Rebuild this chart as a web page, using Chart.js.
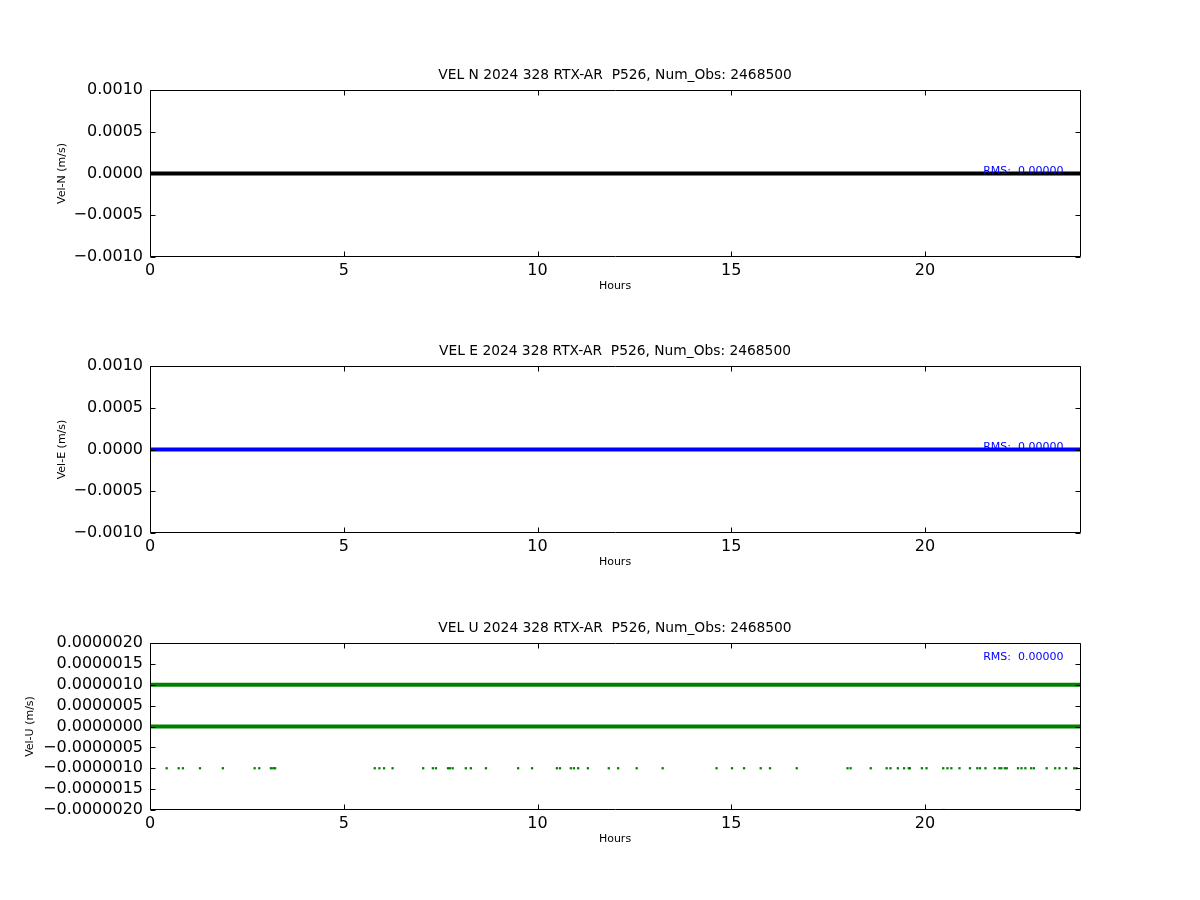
<!DOCTYPE html>
<html>
<head>
<meta charset="utf-8">
<script src="https://cdn.jsdelivr.net/npm/chart.js@4.4.1/dist/chart.umd.min.js"></script>
<style>
  body { margin: 0; background: #fff; }
  .panel { position: absolute; left: 0; width: 1200px; height: 242px; }
</style>
</head>
<body>
<div class="panel" style="top:60px"><canvas id="velN"></canvas></div>
<div class="panel" style="top:336px"><canvas id="velE"></canvas></div>
<div class="panel" style="top:613px"><canvas id="velU"></canvas></div>
<script>
// dados
const spanHours = [0, 24];
const velN = [0, 0];
const velE = [0, 0];
const velUUpper = [0.000001, 0.000001];
const velUZero = [0, 0];
const velULowHours = [
  0.43, 0.74, 0.85, 1.29, 1.88, 2.70, 2.82, 3.12, 3.18, 3.23,
  5.80, 5.92, 6.04, 6.26, 7.05, 7.30, 7.38, 7.69, 7.74, 7.81,
  8.15, 8.28, 8.67, 9.50, 9.86, 10.50, 10.58, 10.86, 10.94, 11.05,
  11.30, 11.84, 12.08, 12.56, 13.23, 14.62, 15.02, 15.33, 15.76, 16.00,
  16.69, 18.00, 18.08, 18.60, 19.01, 19.11, 19.30, 19.46, 19.58, 19.61,
  19.92, 20.04, 20.47, 20.58, 20.68, 20.89, 21.16, 21.35, 21.42, 21.56,
  21.80, 21.92, 21.97, 22.06, 22.11, 22.40, 22.49, 22.59, 22.74, 22.81,
  23.14, 23.36, 23.47, 23.64, 23.85, 23.91
];
const velULow = [
  -0.000001, -0.000001, -0.000001, -0.000001, -0.000001, -0.000001, -0.000001, -0.000001, -0.000001, -0.000001,
  -0.000001, -0.000001, -0.000001, -0.000001, -0.000001, -0.000001, -0.000001, -0.000001, -0.000001, -0.000001,
  -0.000001, -0.000001, -0.000001, -0.000001, -0.000001, -0.000001, -0.000001, -0.000001, -0.000001, -0.000001,
  -0.000001, -0.000001, -0.000001, -0.000001, -0.000001, -0.000001, -0.000001, -0.000001, -0.000001, -0.000001,
  -0.000001, -0.000001, -0.000001, -0.000001, -0.000001, -0.000001, -0.000001, -0.000001, -0.000001, -0.000001,
  -0.000001, -0.000001, -0.000001, -0.000001, -0.000001, -0.000001, -0.000001, -0.000001, -0.000001, -0.000001,
  -0.000001, -0.000001, -0.000001, -0.000001, -0.000001, -0.000001, -0.000001, -0.000001, -0.000001, -0.000001,
  -0.000001, -0.000001, -0.000001, -0.000001, -0.000001, -0.000001
];
const velUOutlierHours = [20.48];
const velUOutlier = [-0.000002];
const xTicks = [0, 5, 10, 15, 20];
const rmsText = 'RMS:  0.00000';

const FONT = 'DejaVu Sans';

function pts(xs, ys) {
  return xs.map((x, i) => ({ x: x, y: ys[i] }));
}

// caixa completa + ticks para dentro (estilo matplotlib) + título + texto RMS
const frame = {
  id: 'frame',
  afterDatasetsDraw(chart, args, opts) {
    const { ctx, chartArea: a, scales: { x, y } } = chart;
    const L = Math.round(a.left) + 0.5, R = Math.round(a.right) + 0.5;
    const T = Math.round(a.top) + 0.5, B = Math.round(a.bottom) - 0.5;
    ctx.save();
    ctx.strokeStyle = '#000';
    ctx.lineWidth = 1;
    ctx.beginPath();
    ctx.rect(L, T, R - L, B - T);
    x.ticks.forEach(t => {
      const px = Math.round(x.getPixelForValue(t.value)) + 0.5;
      ctx.moveTo(px, B); ctx.lineTo(px, B - 5);
      ctx.moveTo(px, T); ctx.lineTo(px, T + 5);
    });
    y.ticks.forEach(t => {
      const py = Math.round(y.getPixelForValue(t.value)) + 0.5;
      ctx.moveTo(L, py); ctx.lineTo(L + 5, py);
      ctx.moveTo(R, py); ctx.lineTo(R - 5, py);
    });
    ctx.stroke();

    // título centrado sobre a área do gráfico
    ctx.fillStyle = '#000';
    ctx.font = '13.8px "' + FONT + '"';
    ctx.textAlign = 'center';
    ctx.textBaseline = 'middle';
    ctx.fillText(opts.title, (a.left + a.right) / 2, a.top - 15);

    ctx.fillStyle = '#0000ff';
    ctx.font = '11px "' + FONT + '"';
    ctx.textAlign = 'left';
    ctx.textBaseline = 'alphabetic';
    ctx.fillText(rmsText, x.getPixelForValue(opts.rmsX), y.getPixelForValue(opts.rmsY));
    ctx.restore();
  }
};

function makePanel(id, title, yLabel, yMin, yMax, yStep, decimals, yTitlePad, datasets, rmsY) {
  return new Chart(document.getElementById(id), {
    type: 'scatter',
    data: { datasets: datasets },
    plugins: [frame],
    options: {
      responsive: true,
      maintainAspectRatio: false,
      animation: false,
      layout: { padding: { left: 0, right: 120, top: 30, bottom: 0 } },
      plugins: {
        legend: { display: false },
        tooltip: { enabled: false },
        title: { display: false },
        frame: { title: title, rmsX: 21.5, rmsY: rmsY },
      },
      scales: {
        x: {
          type: 'linear',
          min: 0,
          max: 24,
          afterFit: s => { s.height = 45; },
          afterBuildTicks: s => { s.ticks = xTicks.map(v => ({ value: v })); },
          grid: { display: false },
          border: { display: false },
          ticks: {
            color: '#000',
            padding: -4,
            maxRotation: 0,
            autoSkip: false,
            font: { family: FONT, size: 16 },
            callback: v => String(v),
          },
          title: {
            display: true,
            text: 'Hours',
            color: '#000',
            font: { family: FONT, size: 11 },
            padding: { top: 0, bottom: 9.5 },
          },
        },
        y: {
          type: 'linear',
          min: yMin,
          max: yMax,
          afterFit: s => { s.width = 150; },
          grid: { display: false },
          border: { display: false },
          ticks: {
            stepSize: yStep,
            autoSkip: false,
            color: '#000',
            padding: -1,
            font: { family: FONT, size: 16 },
            callback: v => {
              if (Math.abs(v) < 1e-12) v = 0;
              const s = Math.abs(v).toFixed(decimals);
              return v < 0 ? '\u2212' + s : s;
            },
          },
          title: {
            display: true,
            text: yLabel,
            color: '#000',
            font: { family: FONT, size: 11 },
            padding: { top: yTitlePad, bottom: 0 },
          },
        },
      },
    },
  });
}

function lineSet(ys, color, width) {
  return {
    data: pts(spanHours, ys),
    showLine: true,
    borderColor: color,
    borderWidth: width,
    pointRadius: 0,
    fill: false,
  };
}

function dotSet(xs, ys, color) {
  return {
    data: pts(xs, ys),
    showLine: false,
    pointRadius: 1.6,
    pointStyle: 'rect',
    backgroundColor: color,
    borderColor: color,
    borderWidth: 0,
  };
}

makePanel('velN', 'VEL N 2024 328 RTX-AR  P526, Num_Obs: 2468500', 'Vel-N (m/s)',
  -0.001, 0.001, 0.0005, 4, 55.4, [lineSet(velN, '#000000', 4)], 0);

makePanel('velE', 'VEL E 2024 328 RTX-AR  P526, Num_Obs: 2468500', 'Vel-E (m/s)',
  -0.001, 0.001, 0.0005, 4, 55.4, [lineSet(velE, '#0000ff', 4)], 0);

makePanel('velU', 'VEL U 2024 328 RTX-AR  P526, Num_Obs: 2468500', 'Vel-U (m/s)',
  -0.000002, 0.000002, 0.0000005, 7, 23.4, [
    lineSet(velUUpper, '#008000', 4),
    lineSet(velUZero, '#008000', 4),
    dotSet(velULowHours, velULow, '#008000'),
    dotSet(velUOutlierHours, velUOutlier, '#008000'),
  ], 0.0000016);
</script>
</body>
</html>
